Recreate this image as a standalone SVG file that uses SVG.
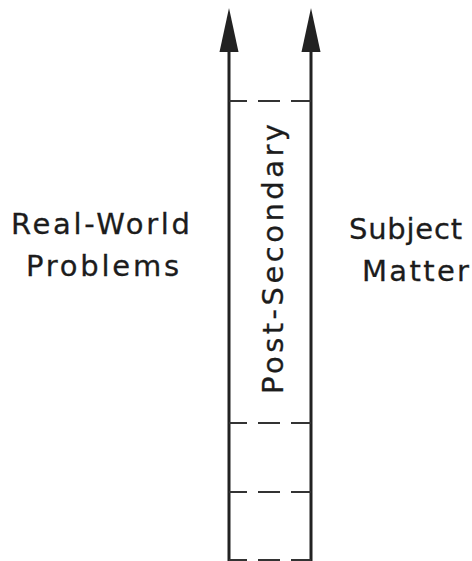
<svg xmlns="http://www.w3.org/2000/svg" width="472" height="561" viewBox="0 0 472 561">
<style>
.lbl{font-family:"DejaVu Sans","Noto Sans",sans-serif;font-size:29px;fill:#1c1c1c;stroke:#1c1c1c;stroke-width:0.3}
.axis{stroke:#222;stroke-width:3;fill:none}
.dash{stroke:#333;stroke-width:2;fill:none;stroke-dasharray:18 11 22 11 22}
.head{fill:#222}
</style>
<rect width="472" height="561" fill="#fff"/>
<g id="connectors">
  <line class="axis" x1="229" y1="48" x2="229" y2="561"/>
  <polygon class="head" points="229,8 219.5,52 238.5,52"/>
  <line class="axis" x1="311" y1="48" x2="311" y2="561"/>
  <polygon class="head" points="311,8 301.5,52 320.5,52"/>
  <line class="dash" x1="229" y1="101" x2="311" y2="101"/>
  <line class="dash" x1="229" y1="423" x2="311" y2="423"/>
  <line class="dash" x1="229" y1="492" x2="311" y2="492"/>
  <line class="dash" x1="229" y1="560" x2="311" y2="560"/>
</g>
<g id="real-world">
  <text class="lbl" x="11" y="234" textLength="179" lengthAdjust="spacing">Real-World</text>
  <text class="lbl" x="26" y="276" textLength="153" lengthAdjust="spacing">Problems</text>
</g>
<g id="subject-matter">
  <text class="lbl" x="349" y="239" textLength="113" lengthAdjust="spacing">Subject</text>
  <text class="lbl" x="362" y="281" textLength="107" lengthAdjust="spacing">Matter</text>
</g>
<g id="post-secondary">
  <text class="lbl" transform="translate(283,394) rotate(-90)" x="0" y="0" textLength="270" lengthAdjust="spacing">Post-Secondary</text>
</g>
</svg>
